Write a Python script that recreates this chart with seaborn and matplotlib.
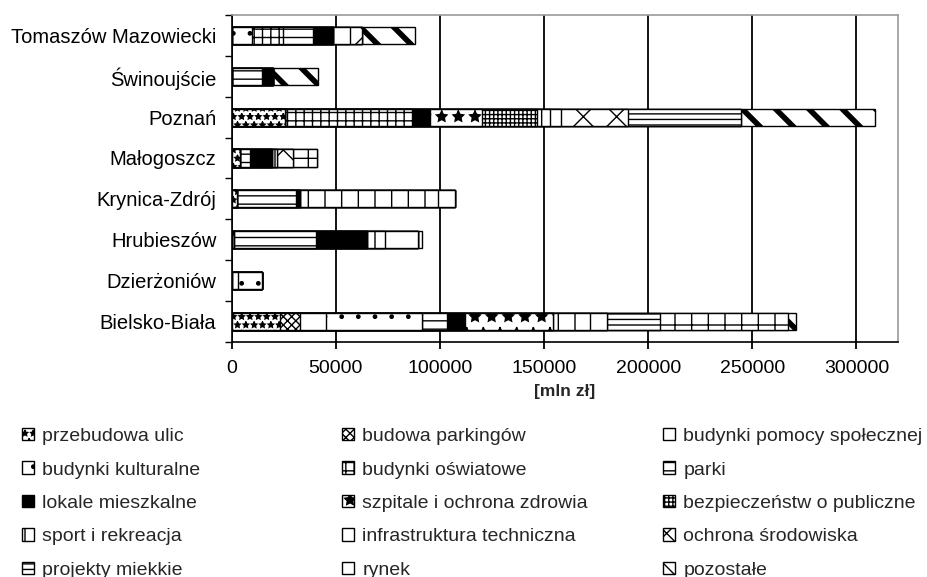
import numpy as np
import matplotlib
matplotlib.use("Agg")
import matplotlib.pyplot as plt
from matplotlib.patches import Patch
import seaborn as sns

# Cities, listed top to bottom
cities = ["Tomaszów Mazowiecki", "Świnoujście", "Poznań", "Małogoszcz",
          "Krynica-Zdrój", "Hrubieszów", "Dzierżoniów", "Bielsko-Biała"]

# Investment value per category [mln zł], same city order as above
przebudowa_ulic = [0, 0, 25600, 4000, 2400, 0, 0, 23000]
budowa_parkingow = [0, 0, 0, 0, 0, 0, 0, 9800]
budynki_pomocy = [0, 0, 0, 0, 0, 0, 3200, 12400]
budynki_kulturalne = [9600, 0, 0, 0, 0, 1200, 11500, 46100]
budynki_oswiatowe = [15200, 0, 61700, 0, 0, 0, 0, 0]
parki = [14400, 14400, 0, 4800, 28400, 39200, 0, 12100]
lokale_mieszkalne = [9600, 5300, 8000, 10400, 2000, 24500, 0, 8400]
szpitale = [0, 0, 24900, 0, 0, 0, 0, 42500]
bezpieczenstwo = [0, 0, 26400, 0, 0, 0, 0, 0]
sport = [0, 0, 6400, 2400, 66500, 8500, 0, 17600]
infrastruktura = [8100, 0, 5300, 0, 7700, 16000, 0, 8400]
ochrona_srodowiska = [5600, 0, 31900, 8000, 0, 0, 0, 0]
projekty_miekkie = [0, 0, 54200, 0, 0, 0, 0, 25600]
rynek = [0, 0, 0, 11300, 0, 0, 0, 61200]
pozostale = [25600, 21600, 64400, 0, 0, 1900, 0, 4000]

series_names = ["przebudowa ulic", "budowa parkingów", "budynki pomocy społecznej",
                "budynki kulturalne", "budynki oświatowe", "parki",
                "lokale mieszkalne", "szpitale i ochrona zdrowia", "bezpieczeństw o publiczne",
                "sport i rekreacja", "infrastruktura techniczna", "ochrona środowiska",
                "projekty miekkie", "rynek", "pozostałe"]
series_values = [przebudowa_ulic, budowa_parkingow, budynki_pomocy, budynki_kulturalne,
                 budynki_oswiatowe, parki, lokale_mieszkalne, szpitale, bezpieczenstwo,
                 sport, infrastruktura, ochrona_srodowiska, projekty_miekkie, rynek, pozostale]

# monochrome fill styles: (face colour, hatch, hatch line width)
styles = [("white", "**", 1.0), ("white", "xxxx", 1.0), ("white", "", 1.0),
          ("white", ".", 1.0), ("white", "++", 1.0), ("white", "--", 1.0),
          ("black", "", 1.0), ("white", "*", 1.0), ("white", "++++", 1.0),
          ("white", "|", 1.0), ("white", "", 1.0), ("white", "x", 1.0),
          ("white", "---", 1.0), ("white", "+", 1.0), ("white", "\\", 4.0)]

sns.set_style("ticks")
plt.rcParams["font.family"] = ["Liberation Sans", "DejaVu Sans"]
plt.rcParams["hatch.linewidth"] = 1.0

fig = plt.figure(figsize=(9.28, 5.77), dpi=100)
ax = fig.add_axes([0.2497, 0.4078, 0.9677 - 0.2497, 0.974 - 0.4078])

def set_hatch_lw(patch, lw):
    try:
        patch.set_hatch_linewidth(lw)
    except AttributeError:
        pass

# stacked bars: draw running totals from the last series back to the first
cum = np.cumsum(np.array(series_values, dtype=float), axis=0)
for k in range(len(series_names) - 1, -1, -1):
    fc, hatch, hlw = styles[k]
    sns.barplot(x=cum[k], y=cities, orient="h", color=fc, saturation=1,
                edgecolor="black", linewidth=1.0, hatch=hatch, width=0.42,
                errorbar=None, ax=ax, zorder=3)
    for p in ax.containers[-1]:
        set_hatch_lw(p, hlw)

ax.set_xlim(0, 320000)
ax.set_ylim(7.5, -0.5)
xt = [0, 50000, 100000, 150000, 200000, 250000, 300000]
ax.set_xticks(xt)
ax.set_xticklabels([str(v) for v in xt])
ax.grid(axis="x", color="black", linewidth=1.3, zorder=0)
ax.set_axisbelow(True)

ax.set_yticks(range(len(cities)))
ax.set_yticklabels(cities)
ax.set_yticks(np.arange(-0.5, len(cities)), minor=True)
ax.tick_params(axis="y", which="major", length=0, pad=11, labelsize=14.5, colors="black")
ax.tick_params(axis="y", which="minor", length=5, width=1.0, direction="out", color="black")
ax.tick_params(axis="x", which="major", length=5, width=1.3, direction="out",
               pad=8.5, labelsize=14, colors="black")
ax.set_ylabel("")
ax.set_xlabel("[mln zł]", fontsize=12.5, fontweight="bold", labelpad=5)

for side in ["left", "bottom"]:
    ax.spines[side].set_color("black")
    ax.spines[side].set_linewidth(1.2)
for side in ["top", "right"]:
    ax.spines[side].set_visible(True)
    ax.spines[side].set_color("#9a9a9a")
    ax.spines[side].set_linewidth(1.2)

# legend in three columns, read row by row
handles = []
for name, (fc, hatch, hlw) in zip(series_names, styles):
    h = Patch(facecolor=fc, edgecolor="black", hatch=hatch, label=name, linewidth=1.0)
    set_hatch_lw(h, hlw)
    handles.append(h)

col_x = [22 / 928, 342 / 928, 663 / 928]
for c in range(3):
    col_handles = handles[c::3]
    fig.legend(handles=col_handles, loc="upper left",
               bbox_to_anchor=(col_x[c], 0.258), bbox_transform=fig.transFigure,
               frameon=False, fontsize=14, handlelength=0.6, handleheight=0.6,
               handletextpad=0.45, labelspacing=0.84, borderpad=0, borderaxespad=0)

fig.savefig("out.png", dpi=100)
